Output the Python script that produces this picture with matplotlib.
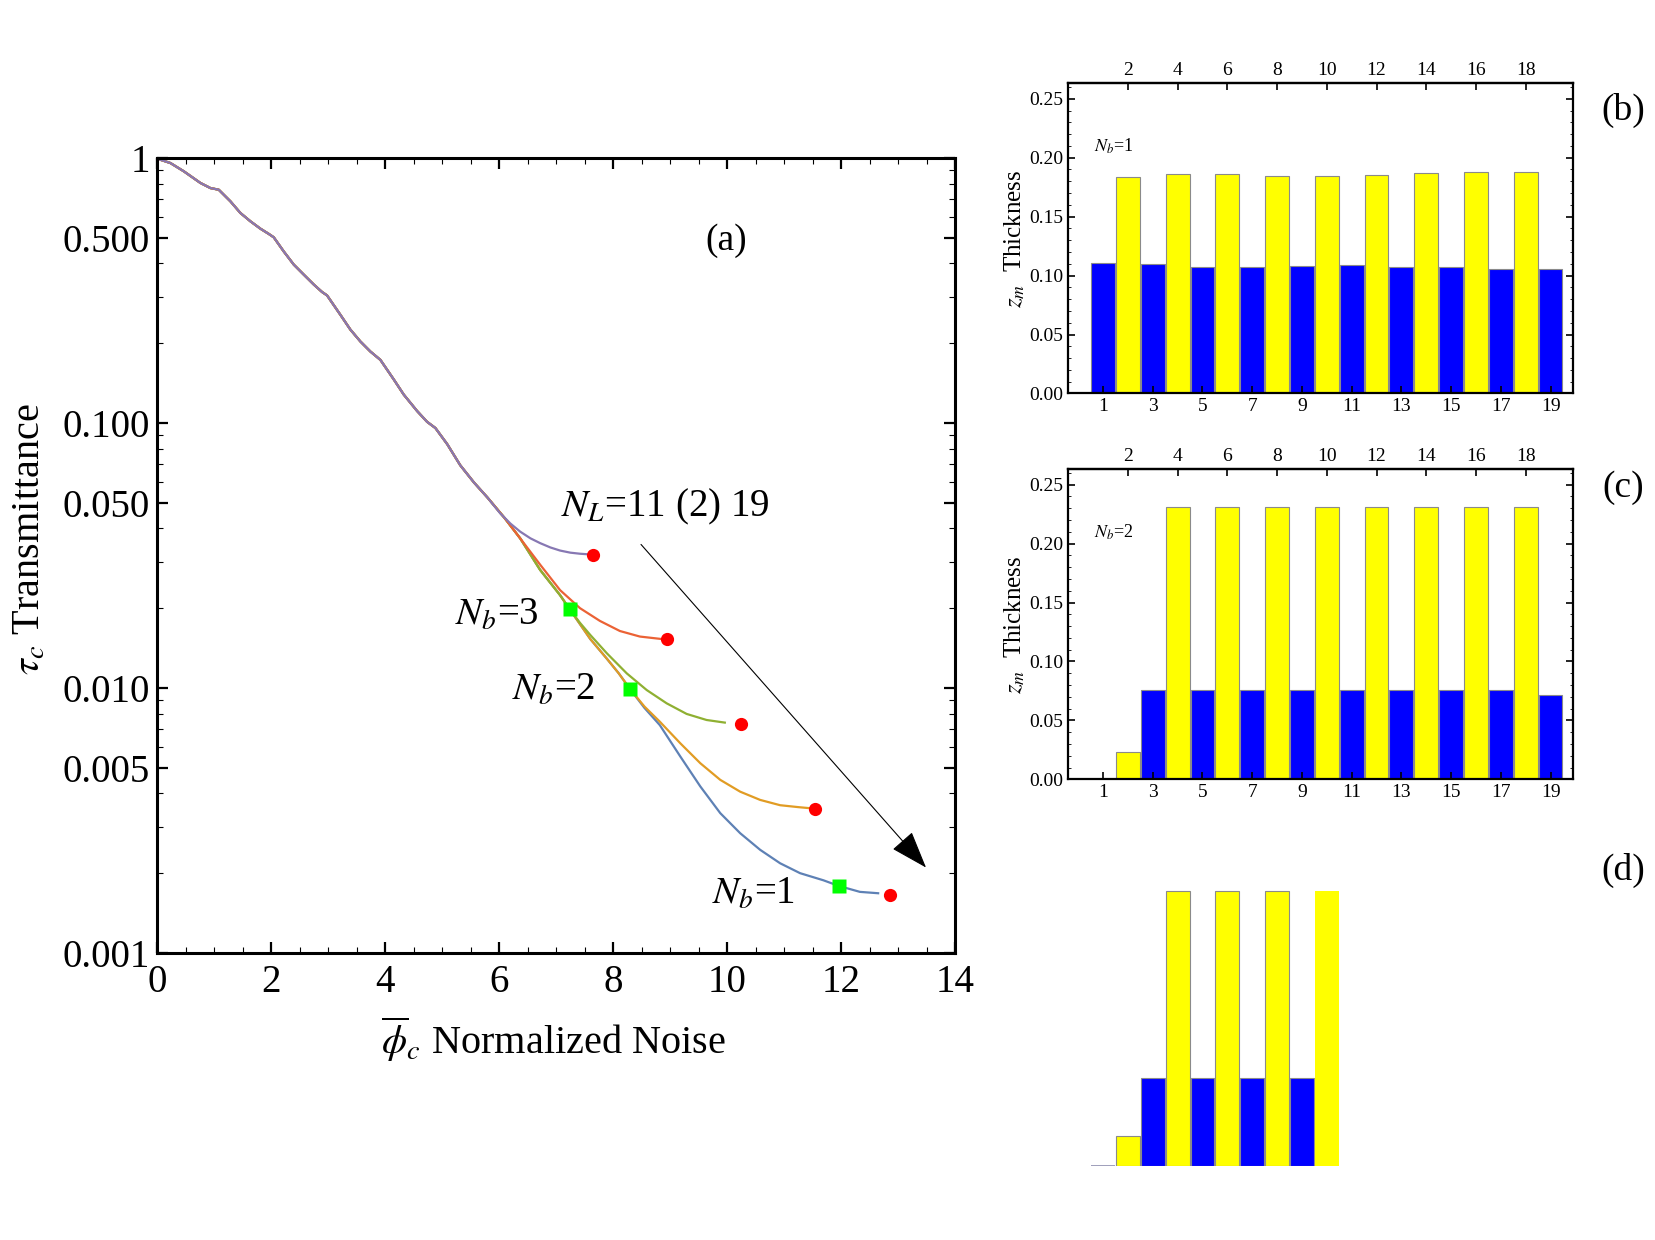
import matplotlib
matplotlib.use('Agg')
import matplotlib.pyplot as plt
import numpy as np
from matplotlib.ticker import FixedLocator, FixedFormatter, MultipleLocator, FormatStrFormatter, NullFormatter

plt.rcParams['font.family'] = ['Liberation Serif', 'DejaVu Serif']
plt.rcParams['mathtext.fontset'] = 'stix'

# ---------------- data: panel (a) ----------------
# common trunk shared by all N_L curves
common_x = [0.0, 0.234, 0.468, 0.760, 0.936, 1.082, 1.287, 1.462, 1.637, 1.813, 1.959, 2.047,
            2.222, 2.398, 2.573, 2.749, 2.895, 2.982, 3.216, 3.392, 3.567, 3.743, 3.918,
            4.152, 4.327, 4.561, 4.737, 4.883, 5.09, 5.32, 5.56, 5.80]
common_y = [0.994, 0.957, 0.891, 0.805, 0.770, 0.759, 0.686, 0.620, 0.577, 0.541, 0.517, 0.502,
            0.444, 0.396, 0.363, 0.333, 0.312, 0.303, 0.256, 0.225, 0.203, 0.186, 0.173,
            0.146, 0.128, 0.111, 0.101, 0.0957, 0.0832, 0.0692, 0.0596, 0.0522]
# N_L = 11 tail (purple)
tail11_x = [6.02, 6.20, 6.37, 6.55, 6.72, 6.90, 7.07, 7.25, 7.42, 7.60]
tail11_y = [0.0456, 0.0417, 0.0389, 0.0367, 0.0352, 0.0339, 0.0330, 0.0324, 0.0321, 0.0319]
# lower trunk shared by N_L = 13..19
low_x = [6.10, 6.37]
low_y = [0.0437, 0.0367]
# N_L = 13 tail (red)
tail13_x = [6.72, 7.07, 7.42, 7.77, 8.12, 8.47, 8.85]
tail13_y = [0.0292, 0.0234, 0.0200, 0.0179, 0.0164, 0.01563, 0.0153]
# trunk shared by N_L = 15..19
mid_x = [6.72, 7.07, 7.24]
mid_y = [0.0279, 0.0224, 0.0198]
# N_L = 15 tail (green)
tail15_x = [7.42, 7.60, 7.89, 8.24, 8.59, 8.94, 9.29, 9.64, 9.96]
tail15_y = [0.0176, 0.01585, 0.01352, 0.01135, 0.00982, 0.00875, 0.00798, 0.00757, 0.0074]
# trunk shared by N_L = 17, 19
deep_x = [7.60, 7.89, 8.10, 8.30]
deep_y = [0.0153, 0.0129, 0.01135, 0.00989]
# N_L = 17 tail (orange)
tail17_x = [8.55, 8.82, 9.18, 9.53, 9.88, 10.23, 10.58, 10.93, 11.25, 11.50]
tail17_y = [0.00851, 0.00746, 0.00618, 0.00520, 0.00450, 0.00406, 0.00378, 0.00361, 0.00355, 0.00351]
# N_L = 19 tail (blue)
tail19_x = [8.55, 8.82, 9.18, 9.53, 9.88, 10.23, 10.58, 10.93, 11.28, 11.69, 11.96, 12.33, 12.65]
tail19_y = [0.00841, 0.00724, 0.00551, 0.00425, 0.00337, 0.00283, 0.00245, 0.00218, 0.00200,
            0.00188, 0.00179, 0.00170, 0.00168]

end_x = [7.64, 8.94, 10.25, 11.55, 12.85]
end_y = [0.0318, 0.01527, 0.00731, 0.00349, 0.00166]
nb_x = [7.24, 8.30, 11.96]
nb_y = [0.0198, 0.0099, 0.00179]
nb_labels = [r'$N_b$=3', r'$N_b$=2', r'$N_b$=1']
nb_label_x = [5.23, 6.22, 9.73]
nb_label_y = [0.0188, 0.00983, 0.00166]

yticks_a = [1, 0.5, 0.1, 0.05, 0.01, 0.005, 0.001]
yticklabels_a = ['1', '0.500', '0.100', '0.050', '0.010', '0.005', '0.001']

# ---------------- data: bar panels ----------------
layers_b = np.arange(1, 20)
thick_b = [0.1107, 0.1836, 0.1096, 0.1862, 0.1073, 0.1864, 0.1076, 0.1847, 0.1085, 0.1845,
           0.1090, 0.1856, 0.1076, 0.1873, 0.1071, 0.1881, 0.1054, 0.1881, 0.1059]
layers_c = np.arange(1, 20)
thick_c = [0.0, 0.0229, 0.0756, 0.2310, 0.0756, 0.2310, 0.0756, 0.2310, 0.0756, 0.2310,
           0.0756, 0.2310, 0.0756, 0.2310, 0.0756, 0.2310, 0.0756, 0.2310, 0.0713]
layers_d = np.arange(1, 11)
thick_d = [0.0, 0.0252, 0.0744, 0.2330, 0.0744, 0.2330, 0.0744, 0.2330, 0.0744, 0.2330]

# ---------------- figure ----------------
fig = plt.figure(figsize=(16.55, 12.4), dpi=100)
ax = fig.add_axes([0.0949, 0.2315, 0.4822, 0.6411])

col_blue = '#5E81B5'
col_orange = '#E19C24'
col_green = '#8FB032'
col_red = '#EB6235'
col_purple = '#8778B3'
lw = 1.6

ax.plot(common_x + low_x + mid_x + deep_x + tail19_x, common_y + low_y + mid_y + deep_y + tail19_y,
        color=col_blue, lw=lw, zorder=2)
ax.plot(common_x + low_x + mid_x + deep_x + tail17_x, common_y + low_y + mid_y + deep_y + tail17_y,
        color=col_orange, lw=lw, zorder=2.1)
ax.plot(common_x + low_x + mid_x + tail15_x, common_y + low_y + mid_y + tail15_y,
        color=col_green, lw=lw, zorder=2.2)
ax.plot(common_x + low_x + tail13_x, common_y + low_y + tail13_y,
        color=col_red, lw=lw, zorder=2.3)
ax.plot(common_x + tail11_x, common_y + tail11_y, color=col_purple, lw=lw, zorder=2.4)

ax.plot(end_x, end_y, 'o', color='#FF0000', ms=9.5, mec='none', zorder=4)
ax.plot(nb_x, nb_y, 's', color='#00FF00', ms=10, mec='none', zorder=4)

for t, x, y in zip(nb_labels, nb_label_x, nb_label_y):
    ax.text(x, y, t, fontsize=28, ha='left', va='center')
ax.text(7.09, 0.0484, r'$N_L$=11 (2) 19', fontsize=28, ha='left', va='center')
ax.text(9.98, 0.487, '(a)', fontsize=27, ha='center', va='center')

ax.annotate('', xy=(13.49, 0.0021), xytext=(8.49, 0.0348),
            arrowprops=dict(arrowstyle='-|>,head_length=0.8,head_width=0.28', lw=0.8,
                            color='black', mutation_scale=30, shrinkA=0, shrinkB=0))

ax.set_xlim(0, 14)
ax.set_yscale('log')
ax.set_ylim(0.001, 1)
ax.xaxis.set_major_locator(MultipleLocator(2))
ax.xaxis.set_minor_locator(MultipleLocator(0.5))
ax.yaxis.set_major_locator(FixedLocator(yticks_a))
ax.yaxis.set_major_formatter(FixedFormatter(yticklabels_a))
minor_pos = [k * 10.0 ** e for e in (-3, -2, -1) for k in (2, 3, 4, 6, 7, 8, 9)]
ax.yaxis.set_minor_locator(FixedLocator(minor_pos))
ax.yaxis.set_minor_formatter(NullFormatter())
ax.tick_params(which='both', direction='in', top=True, right=True, labelsize=28)
ax.tick_params(which='major', length=8, width=1.6)
ax.tick_params(which='minor', length=4, width=0.8)
ax.tick_params(axis='x', which='major', pad=8)
ax.tick_params(axis='y', which='major', pad=5)
for s in ax.spines.values():
    s.set_linewidth(2.2)
ax.set_xlabel(r'$\overline{\phi}_c$ Normalized Noise', fontsize=29)
ax.set_ylabel(r'$\tau_c$ Transmittance', fontsize=29)
ax.xaxis.set_label_coords(0.497, -0.109)
ax.xaxis.label.set_va('center')
ax.yaxis.set_label_coords(-0.159, 0.52)
ax.yaxis.label.set_va('center')

# ---------------- bar panels ----------------
bar_colors = {1: '#0000FF', 0: '#FFFF00'}
edge = '#8A8A8A'


def bar_panel(a, layers, vals, label, frame=True):
    cols = [bar_colors[int(i) % 2] for i in layers]
    bars = a.bar(layers, vals, width=0.96, color=cols, edgecolor=edge, linewidth=0.8)
    # zero-height bars still show their outline as a thin line on the baseline
    for xi, v in zip(layers, vals):
        if v == 0:
            a.plot([xi - 0.48, xi + 0.48], [0, 0], color='#9090B0', lw=1.2,
                   solid_capstyle='butt', zorder=1.5)
    a.set_xlim(-0.41, 19.9)
    a.set_ylim(0, 0.263)
    if not frame:
        a.axis('off')
        return bars
    a.set_xticks(list(range(1, 20, 2)))
    a.yaxis.set_major_locator(MultipleLocator(0.05))
    a.yaxis.set_minor_locator(MultipleLocator(0.01))
    a.yaxis.set_major_formatter(FormatStrFormatter('%.2f'))
    a.tick_params(which='both', direction='in', right=True, labelsize=14)
    a.tick_params(which='major', length=5, width=1.2)
    a.tick_params(which='minor', length=2.5, width=0.6)
    a.tick_params(axis='x', pad=3)
    sec = a.secondary_xaxis('top')
    sec.set_xticks(list(range(2, 19, 2)))
    sec.tick_params(direction='in', labelsize=14, length=5, width=1.2, pad=3)
    sec.spines['top'].set_linewidth(1.6)
    for s in a.spines.values():
        s.set_linewidth(1.6)
        s.set_zorder(3)
    a.set_ylabel(r'$z_m$  Thickness', fontsize=18)
    a.yaxis.set_label_coords(-0.105, 0.5)
    a.yaxis.label.set_va('center')
    a.text(0.64, 0.210, label, fontsize=13, ha='left', va='center')
    return bars


ax_b = fig.add_axes([0.6453, 0.6827, 0.3051, 0.2500])
bar_panel(ax_b, layers_b, thick_b, r'$N_b$=1')
ax_c = fig.add_axes([0.6453, 0.3715, 0.3051, 0.2500])
bar_panel(ax_c, layers_c, thick_c, r'$N_b$=2')
ax_d = fig.add_axes([0.6453, 0.0597, 0.3051, 0.2500])
bars_d = bar_panel(ax_d, layers_d, thick_d, '', frame=False)
bars_d[-1].set_edgecolor('none')

fig.text(1623 / 1655, 1 - 110 / 1240, '(b)', fontsize=27, ha='center', va='center')
fig.text(1623 / 1655, 1 - 488 / 1240, '(c)', fontsize=27, ha='center', va='center')
fig.text(1623 / 1655, 1 - 870 / 1240, '(d)', fontsize=27, ha='center', va='center')

fig.savefig('out.png', dpi=100)
